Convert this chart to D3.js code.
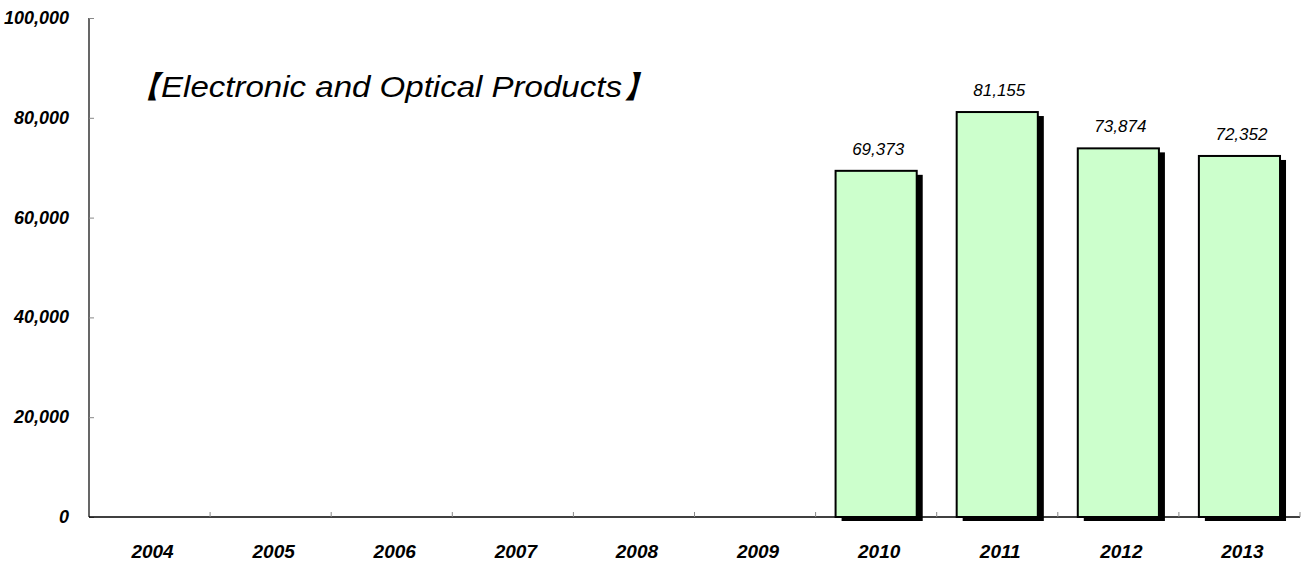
<!DOCTYPE html>
<html><head><meta charset="utf-8">
<script src="https://cdn.jsdelivr.net/npm/d3@7/dist/d3.min.js"></script>
<style>
body{margin:0;background:#fff;}
svg{display:block;}
text{font-family:"Liberation Sans","DejaVu Sans",sans-serif;}
</style></head>
<body><svg id="c" width="1303" height="564"></svg>
<script>
const categories = ["2004","2005","2006","2007","2008","2009","2010","2011","2012","2013"];
const values = [null,null,null,null,null,null,69373,81155,73874,72352];
const yTicks = [0,20000,40000,60000,80000,100000];
const title = "【Electronic and Optical Products】";

(function(){
const svg = d3.select("#c");
const mLeft = 89, mRight = 1300, mTop = 18, mBottom = 517;
const x = d3.scaleBand().domain(categories).range([mLeft, mRight]).paddingInner(0).paddingOuter(0);
const y = d3.scaleLinear().domain([0,100000]).range([mBottom, mTop]);
const fmt = d3.format(",");

const data = categories.map((c,i)=>({c, v: values[i]})).filter(d=>d.v!=null);
const bw = x.bandwidth()*0.67;
const g = svg.append("g");
g.selectAll("rect.sh").data(data).enter().append("rect")
  .attr("x", d=>x(d.c)+(x.bandwidth()-bw)/2+6)
  .attr("y", d=>y(d.v)+4)
  .attr("width", bw).attr("height", d=>mBottom-y(d.v))
  .attr("fill","#000");
g.selectAll("rect.b").data(data).enter().append("rect")
  .attr("x", d=>x(d.c)+(x.bandwidth()-bw)/2)
  .attr("y", d=>y(d.v))
  .attr("width", bw).attr("height", d=>mBottom-y(d.v))
  .attr("fill","#ccffcc").attr("stroke","#000").attr("stroke-width",2);
g.selectAll("text.v").data(data).enter().append("text")
  .attr("x", d=>x(d.c)+x.bandwidth()/2+2)
  .attr("y", d=>y(d.v)-16)
  .attr("text-anchor","middle")
  .attr("font-size",17).attr("font-style","italic")
  .text(d=>fmt(d.v));

const ya = svg.append("g").attr("transform",`translate(${mLeft},0)`)
  .call(d3.axisRight(y).tickValues(yTicks).tickSize(5).tickFormat(""));
ya.select(".domain").attr("stroke","#000").attr("stroke-width",1.2).attr("d",`M0,${mTop}V${mBottom}`);
ya.selectAll(".tick line").attr("stroke","#888");
svg.append("g").selectAll("text").data(yTicks).enter().append("text")
  .attr("x",69).attr("y",d=>y(d)+6)
  .attr("text-anchor","end").attr("font-size",18).attr("font-weight","bold").attr("font-style","italic")
  .text(d=>fmt(d));

const xa = svg.append("g").attr("transform",`translate(0,${mBottom})`)
  .call(d3.axisTop(x).tickSize(0).tickFormat(""));
xa.select(".domain").attr("stroke","#000").attr("stroke-width",1.5).attr("d",`M${mLeft},0H${mRight}`);
svg.append("g").selectAll("line").data(categories).enter().append("line")
  .attr("x1",d=>x(d)+x.bandwidth()).attr("x2",d=>x(d)+x.bandwidth())
  .attr("y1",mBottom).attr("y2",mBottom-5).attr("stroke","#888");
svg.append("g").selectAll("text").data(categories).enter().append("text")
  .attr("x",d=>x(d)+x.bandwidth()/2+3).attr("y",558)
  .attr("text-anchor","middle").attr("font-size",19).attr("font-weight","bold").attr("font-style","italic")
  .text(d=>d);

svg.append("text").attr("x",128).attr("y",97)
  .attr("font-size",30).attr("font-style","italic")
  .attr("font-family","'Noto Sans CJK JP','Liberation Sans',sans-serif")
  .attr("textLength",527).attr("lengthAdjust","spacingAndGlyphs")
  .text(title);
})();
</script></body></html>
